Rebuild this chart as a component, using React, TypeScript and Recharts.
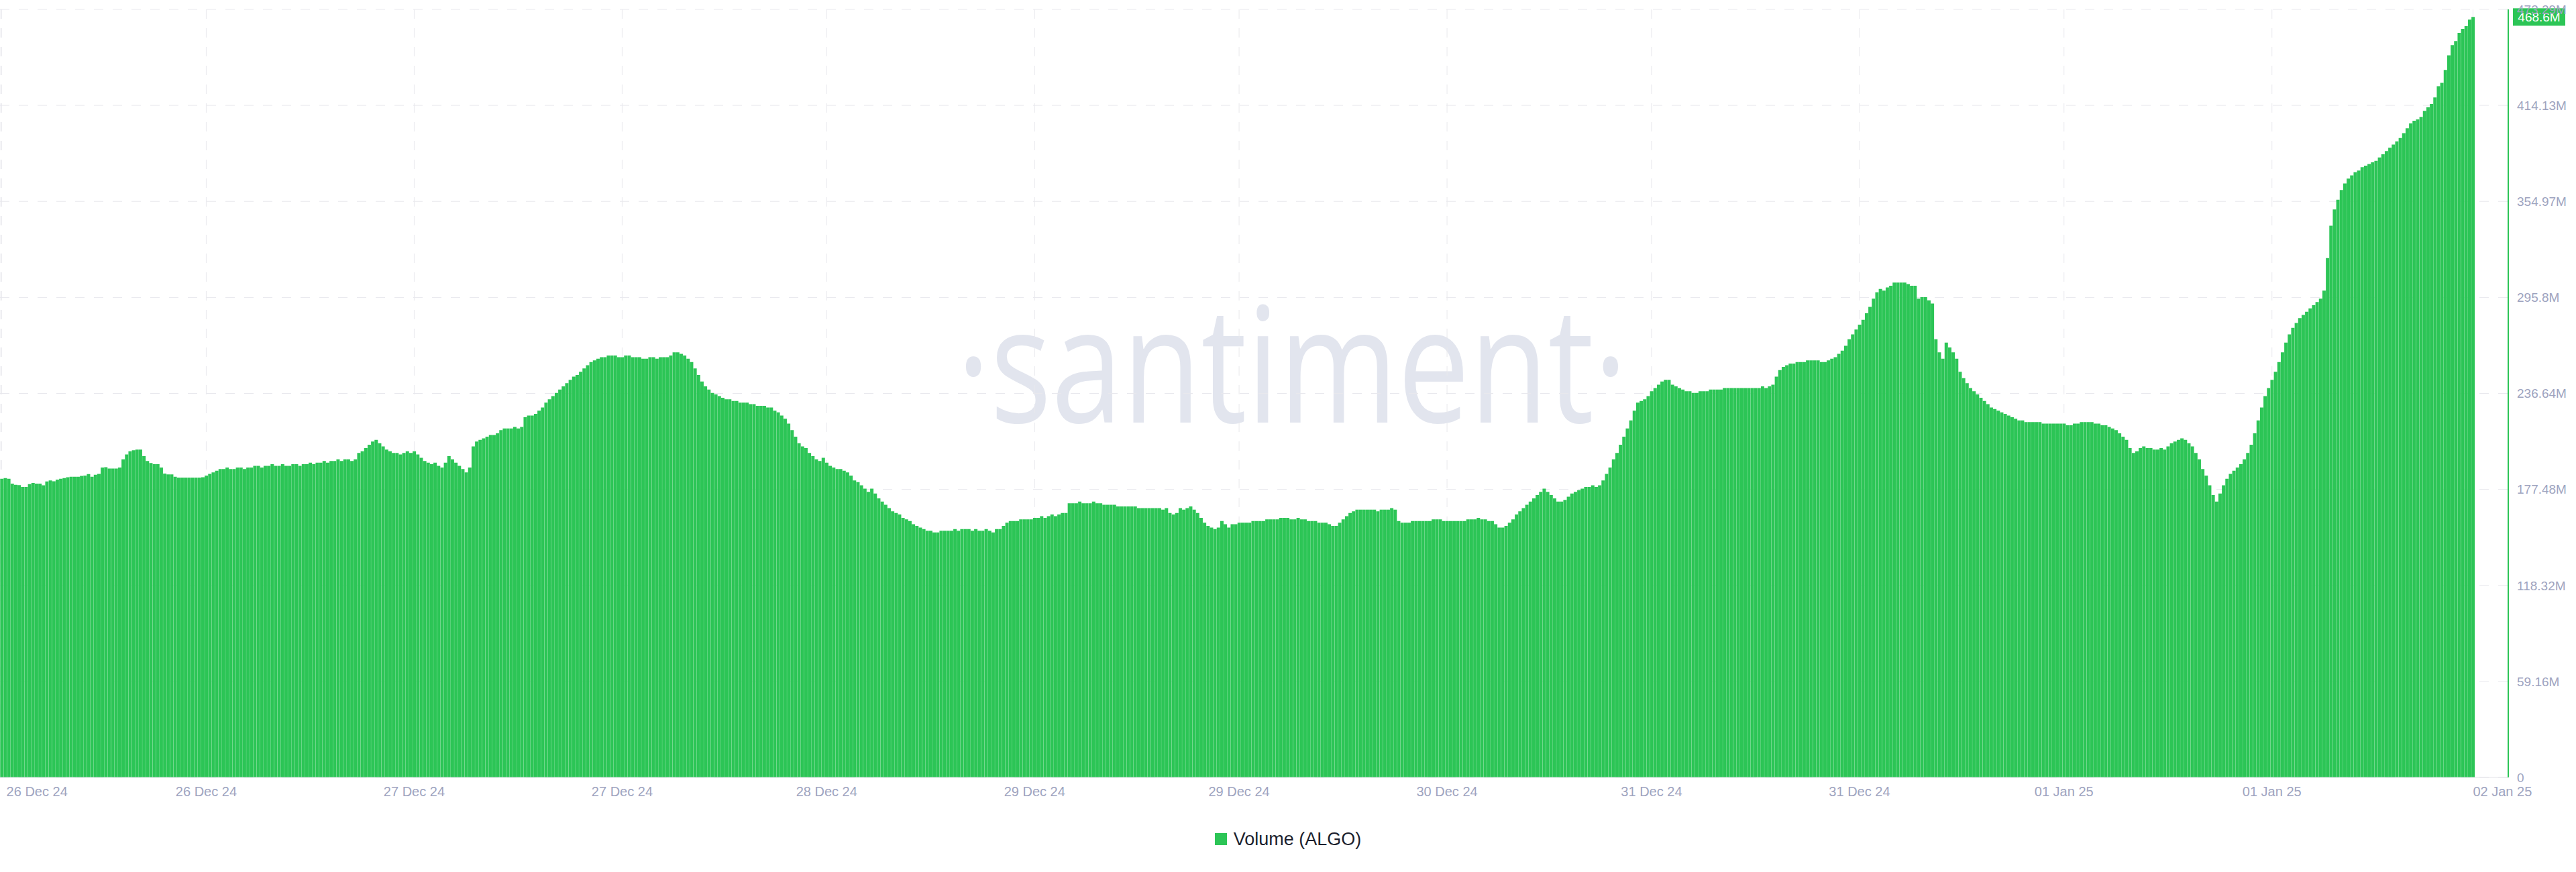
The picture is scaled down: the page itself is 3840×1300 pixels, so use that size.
import React from 'react';
import {
  BarChart,
  Bar,
  XAxis,
  YAxis,
  CartesianGrid,
  Legend,
  ReferenceLine,
} from 'recharts';

// volume in millions of ALGO, one bar per slot
const vol1 = [
  184, 184.5, 184, 181, 180.3, 180.1, 179, 179, 180.7, 181.5,
  181, 181, 180, 182.4, 183, 182.5, 183.5, 184, 184.5, 185,
  185.3, 185.3, 185.3, 185.8, 186, 186.9, 185.3, 186.5, 187, 191,
  191.2, 190.3, 190.3, 190.3, 191, 196, 199, 201, 201.6, 202,
  202, 198, 195, 193.8, 193, 193, 191, 187.3, 186.7, 186.7,
  185.3, 184.8, 184.8, 184.8, 184.8, 184.8, 184.8, 184.8,
];
const vol2 = [
  185, 186, 187, 188, 189, 190, 190, 191, 190, 190, 191, 191, 190, 191,
  191, 192, 192, 191, 192, 192, 193, 192, 192, 193, 192, 192, 193, 193,
  192, 193, 193, 194, 193, 194, 194, 195, 194, 195,
  195, 196, 195, 196, 196, 195, 196, 200, 201,
  203, 205, 207, 208, 206, 204,
  202, 201, 200, 200, 199, 200, 201, 200, 201, 199, 197, 195, 194,
  193, 194, 192, 191, 194, 198, 196,
  194, 192, 190, 188, 191,
];
const vol3 = [
  204, 207, 208, 209, 210, 211, 211, 212,
  214, 215, 215, 215, 216, 215, 216, 222,
  223, 223, 224, 226, 228,
  231, 233, 235, 237, 239, 241, 243,
  245, 247, 248, 250, 252,
  254, 256, 257, 258, 259, 259, 260,
  260, 260, 259, 259, 260, 260, 259, 259, 259, 258, 258, 259, 259, 258, 259, 259, 259, 260, 262,
  262, 261, 260, 258, 256,
  252, 248, 244, 241,
];
const vol4 = [
  239, 237, 236, 235, 234, 233, 233, 232, 232, 231, 231, 231, 230, 230, 229, 229, 229, 228, 228,
  226, 225, 223, 221, 218,
  214, 210, 206, 204, 203,
  200, 198, 196, 195, 197,
  194, 192, 191, 190, 190, 189, 188, 186, 183,
  182, 180, 178, 176, 178, 175, 172,
  170, 168, 166, 164, 163, 162, 160,
  159, 158, 156, 155, 154, 153,
];
const vol5 = [
  152, 152, 151, 151, 152, 152, 152, 152, 153, 152, 153, 153, 153, 152, 153, 152, 152, 153, 152, 151, 153, 153,
  155, 157, 158, 158, 158, 159, 159, 159, 159, 160, 160, 161, 160, 161, 162, 161, 162, 163, 163,
  169, 169, 169, 170, 169, 169, 169, 170, 169, 169, 168, 168, 168, 168, 167, 167, 167, 167, 167, 167, 166, 166, 166, 166,
];
const vol6 = [
  166, 166, 166, 165, 166, 163, 162, 163, 166, 165, 166, 167, 165, 163, 160,
  157, 155, 154, 153, 154, 158, 156, 154, 156, 156, 157, 157, 157, 157,
  158, 158, 158, 158, 159, 159, 159, 159, 160, 160, 160, 159, 159, 160, 159, 159, 158, 158, 158, 157, 157, 157, 156, 155, 155, 157, 159, 161,
];
const vol7 = [
  163, 164, 165, 165, 165, 165, 165, 165, 164, 165, 165, 165, 166, 165,
  158, 157, 157, 157, 158, 158, 158, 158, 158, 158, 159, 159, 159, 158, 158, 158, 158, 158, 158, 158, 159, 159, 159, 160, 159, 159, 158, 158,
  156, 154, 154, 155, 157, 159, 162,
  164, 166, 168, 170, 172, 174, 176, 178, 176, 174, 172, 170,
];
const vol8 = [
  170, 171, 173, 175, 176, 177, 178,
  179, 179, 180, 179, 180, 183,
  187, 191, 196, 200, 205, 210, 215, 220,
  226, 231, 232, 233, 235,
  238, 240, 242, 244, 245, 245, 242, 241,
  240, 239, 238, 238, 237, 237, 238, 238, 238, 239, 239, 239, 239, 240, 240, 240, 240, 240, 240, 240, 240, 240, 240, 240, 241, 240, 241, 242,
];
const vol9 = [
  247, 251, 253, 254, 255, 255, 256, 256,
  256, 257, 257, 257, 257, 256, 256, 257, 258, 259, 261,
  263, 266, 270, 273, 276, 279, 282,
  286, 290, 295, 299, 301, 300,
  302, 303, 305, 305, 305, 305, 304, 303, 303,
  295, 296, 296, 294, 292,
  270, 262, 258, 268, 265, 262, 258,
  250, 246, 243, 240, 238, 236,
  234, 232, 230, 228, 227, 226, 225, 224, 223, 222,
];
const vol10 = [
  221, 220, 220, 219, 219, 219, 219, 219, 218, 218, 218, 218, 218, 218, 218, 217, 217, 218, 218, 219, 219, 219, 219, 218, 218, 217, 217, 216, 215, 214,
  212, 210, 208, 203, 200, 201,
  203, 204, 203, 203, 202, 202, 203, 202, 204, 206, 207, 208, 209, 208, 206, 204,
  200, 196, 190, 186, 180, 174, 170, 175, 180,
  184, 187, 189, 191, 193, 196, 200,
];
const vol11 = [
  205, 212, 220, 228, 235, 240, 245,
  250, 256, 262, 268, 273, 277, 280,
  283, 285, 287, 289, 291, 293,
  295, 300, 320, 340, 350,
  356, 362, 366, 369, 371, 373, 374,
  376, 377, 378, 379, 380, 382, 384, 386,
  388, 390, 392, 394, 397, 400, 403,
  404.7, 405.5, 407, 410.8, 412.9, 415, 419, 426, 428, 436, 445, 451.3, 453.8, 458.8, 461.3, 463, 467, 468.6,
];

const volume = [...vol1, ...vol2, ...vol3, ...vol4, ...vol5, ...vol6, ...vol7, ...vol8, ...vol9, ...vol10, ...vol11];

const xTickIndex = [0, 59, 119, 179, 238, 298, 357, 417, 476, 536, 595, 655, volume.length - 1];
const xTickLabel = [
  '26 Dec 24', '26 Dec 24', '27 Dec 24', '27 Dec 24', '28 Dec 24', '29 Dec 24', '29 Dec 24',
  '30 Dec 24', '31 Dec 24', '31 Dec 24', '01 Jan 25', '01 Jan 25', '02 Jan 25',
];
const yTicks = [0, 59.16, 118.32, 177.48, 236.64, 295.8, 354.97, 414.13, 473.29];
const lastValue = 468.6;

const chartData = volume.map((v, i) => ({ i, v }));

const GREEN = '#2cc556';
const TICK_COLOR = '#9ea4bf';
const FONT = '"Liberation Sans", Arial, sans-serif';

const XTick = (props: any) => {
  const { x, y, payload } = props;
  const idx = xTickIndex.indexOf(payload.value);
  const first = idx === 0;
  const last = idx === xTickIndex.length - 1;
  return (
    <text
      x={first ? x + 7 : x}
      y={y}
      dy="0.71em"
      textAnchor={first || last ? 'start' : 'middle'}
      fill={TICK_COLOR}
      fontSize={20}
      fontFamily={FONT}
    >
      {xTickLabel[idx]}
    </text>
  );
};

const LastValueTag = (props: any) => {
  const { viewBox } = props;
  const x = viewBox.x + viewBox.width + 7;
  const y = viewBox.y;
  return (
    <g>
      <rect x={x} y={y - 13} width={78} height={26} fill={GREEN} />
      <text x={x + 39} y={y} dy="0.36em" textAnchor="middle" fill="#fff" fontSize={19} fontFamily={FONT}>
        {`${lastValue}M`}
      </text>
    </g>
  );
};

const renderLegend = (props: any) => (
  <div style={{ display: 'flex', justifyContent: 'center', alignItems: 'center', height: 36 }}>
    {props.payload.map((entry: any) => (
      <div key={entry.value} style={{ display: 'flex', alignItems: 'center' }}>
        <span style={{ width: 18, height: 18, background: GREEN, marginRight: 10, display: 'inline-block' }} />
        <span style={{ fontFamily: FONT, fontSize: 27, color: '#1c1f2e' }}>{entry.value}</span>
      </div>
    ))}
  </div>
);

const App: React.FC = () => {
  return (
    <div style={{ position: 'relative', width: 3840, height: 1300, background: '#fff' }}>
      <style>{'body{margin:0}'}</style>
      {/* watermark */}
      <svg width={3840} height={1300} style={{ position: 'absolute', left: 0, top: 0 }}>
        <text
          x={1926}
          y={630}
          textAnchor="middle"
          fontSize={240}
          fontFamily='"Open Sans", sans-serif'
          fill="#e2e5ee"
          textLength={1000}
          lengthAdjust="spacingAndGlyphs"
        >
          ·santiment·
        </text>
      </svg>
      <BarChart
        width={3840}
        height={1300}
        data={chartData}
        margin={{ top: 14, right: 0, bottom: 65, left: 0 }}
        barCategoryGap={0.28}
      >
        <CartesianGrid strokeDasharray="14 14" stroke="#e8e8ed" />
        <XAxis
          dataKey="i"
          ticks={xTickIndex}
          interval={0}
          tickLine={false}
          axisLine={{ stroke: '#e3e3e8' }}
          padding={{ left: 0, right: 50 }}
          height={40}
          tickMargin={8}
          tick={<XTick />}
        />
        <YAxis
          orientation="right"
          width={101}
          domain={[0, 473.29]}
          ticks={yTicks}
          interval={0}
          tickLine={false}
          axisLine={{ stroke: GREEN, strokeWidth: 2 }}
          tickMargin={7}
          tick={{ fill: TICK_COLOR, fontSize: 19, fontFamily: FONT }}
          tickFormatter={(v: number) => (v === 0 ? '0' : `${v}M`)}
        />
        <Bar dataKey="v" name="Volume (ALGO)" fill={GREEN} isAnimationActive={false} />
        <ReferenceLine y={lastValue} stroke="none" label={<LastValueTag />} />
        <Legend verticalAlign="bottom" content={renderLegend} wrapperStyle={{ top: 1233, left: 0, width: 3840 }} />
      </BarChart>
    </div>
  );
};

export default App;
